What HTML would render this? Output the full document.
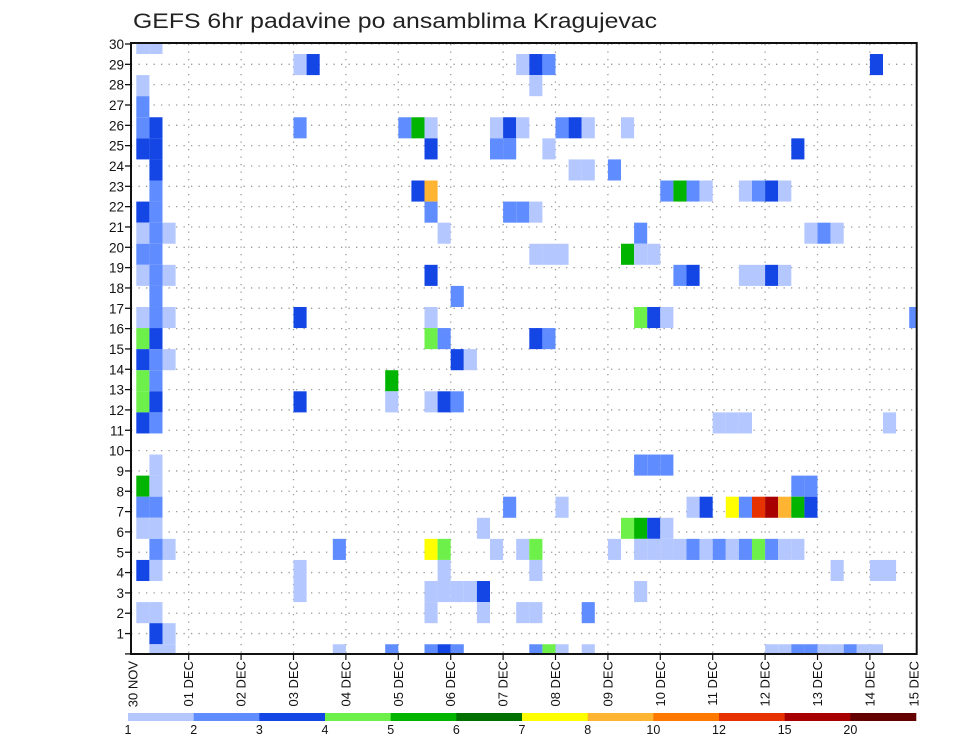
<!DOCTYPE html>
<html><head><meta charset="utf-8"><style>
html,body{margin:0;padding:0;background:#fff;}
svg{display:block;font-family:"Liberation Sans",sans-serif;}
</style></head><body>
<svg id="chart" width="960" height="742" viewBox="0 0 960 742" xmlns="http://www.w3.org/2000/svg">
<rect width="960" height="742" fill="#fff"/>
<text x="133" y="28" font-size="21" fill="#222" textLength="524" lengthAdjust="spacingAndGlyphs">GEFS 6hr padavine po ansamblima Kragujevac</text>
<g id="grid"></g>
<g id="cells"></g>
<g id="axes"></g>
<g id="legend"></g>
</svg>
<script>
const dayLabels = ["30 NOV","01 DEC","02 DEC","03 DEC","04 DEC","05 DEC","06 DEC","07 DEC","08 DEC","09 DEC","10 DEC","11 DEC","12 DEC","13 DEC","14 DEC","15 DEC"];
const memberTicks = [0,1,2,3,4,5,6,7,8,9,10,11,12,13,14,15,16,17,18,19,20,21,22,23,24,25,26,27,28,29,30];
const levelLabels = ["1","2","3","4","5","6","7","8","10","12","15","20"];
const levelColors = ["#b4c8ff","#5f8cff","#1446e6","#6ef04a","#00b400","#007000","#ffff00","#ffb432","#ff7800","#e63200","#a80000","#640000"];
// heatmap cells: member row, 6-hour step, precip class (1..12)
const cellMember = [29,29,28,28,28,28,28,28,27,27,26,25,25,25,25,25,25,25,25,25,25,25,25,25,24,24,24,24,24,24,24,23,23,23,23,22,22,22,22,22,22,22,22,22,22,22,21,21,21,21,21,21,20,20,20,20,20,20,20,20,19,19,19,19,19,19,19,19,18,18,18,18,18,18,18,18,18,18,17,17,16,16,16,16,16,16,16,16,16,15,15,15,15,15,15,14,14,14,14,14,13,13,13,12,12,12,12,12,12,12,11,11,11,11,11,11,9,9,9,9,8,8,8,8,7,7,7,7,7,7,7,7,7,7,7,7,7,6,6,6,6,6,6,6,5,5,5,5,5,5,5,5,5,5,5,5,5,5,5,5,5,5,5,5,5,5,4,4,4,4,4,4,4,4,3,3,3,3,3,3,3,2,2,2,2,2,2,2,1,1,0,0,0,0,0,0,0,0,0,0,0,0,0,0,0,0,0,0,0,0];
const cellStep =   [0,1,12,13,29,30,31,56,0,30,0,0,1,12,20,21,22,27,28,29,32,33,34,37,0,1,22,27,28,31,50,1,33,34,36,1,21,22,40,41,42,43,46,47,48,49,0,1,22,28,29,30,0,1,2,23,38,51,52,53,0,1,30,31,32,37,38,39,0,1,2,22,41,42,46,47,48,49,1,24,0,1,2,12,22,38,39,40,59,0,1,22,23,30,31,0,1,2,24,25,0,1,19,0,1,12,19,22,23,24,0,1,44,45,46,57,1,38,39,40,0,1,50,51,0,1,28,32,42,43,45,46,47,48,49,50,51,0,1,26,37,38,39,40,1,2,15,22,23,27,29,30,36,38,39,40,41,42,43,44,45,46,47,48,49,50,0,1,12,23,30,53,56,57,12,22,23,24,25,26,38,0,1,22,26,29,30,34,1,2,1,2,15,19,22,23,24,30,31,32,34,48,49,50,51,52,53,54,55,56];
const cellLevel =  [1,1,1,3,1,3,2,3,1,1,2,2,3,2,2,5,1,1,3,1,2,3,1,1,3,3,3,2,2,1,3,3,1,1,2,2,3,8,2,5,2,1,1,2,3,1,3,2,2,2,2,1,1,2,1,1,2,1,2,1,2,2,1,1,1,5,1,1,1,2,1,3,2,3,1,1,3,1,2,2,1,2,1,3,1,4,3,1,2,4,3,4,2,3,2,3,2,1,3,1,4,2,5,4,3,3,1,1,3,2,3,2,1,1,1,1,1,2,2,2,5,1,2,2,2,2,2,1,1,3,7,2,10,11,8,5,3,1,1,1,4,5,3,1,2,1,2,7,4,1,1,4,1,1,1,1,1,2,1,2,1,2,4,2,1,1,3,1,1,1,1,1,1,1,1,1,1,1,1,3,1,1,1,1,1,1,1,2,3,1,1,1,1,2,2,3,2,2,4,1,1,1,1,2,2,1,1,2,1,1];

const NS = "http://www.w3.org/2000/svg";
const PL = 131, PR = 916.7, PT = 44, PB = 654;
const X0 = 136.3, DAY = 52.4, STEP = DAY / 4;
const xDay = d => X0 + d * DAY;
const xStep = s => X0 + s * STEP;
const yTick = m => PT + (30 - m) * 20.33;
const CELLH = 21.08;
const yCellCenter = r => 654.8 - r * CELLH;
function mk(tag, attrs, parent){ const e=document.createElementNS(NS,tag); for(const k in attrs) e.setAttribute(k,attrs[k]); parent.appendChild(e); return e; }

const grid = document.getElementById('grid');
memberTicks.forEach(m => {
  const y = yTick(m);
  const l = mk('line',{x1:PL,x2:PR,y1:y,y2:y,stroke:'#999','stroke-width':1.3,'stroke-dasharray':'1.3 6.2'},grid);
  
  
});
for (let d=1; d<15; d++){
  const x = xDay(d);
  const l = mk('line',{x1:x,x2:x,y1:PT,y2:PB,stroke:'#999','stroke-width':1.3,'stroke-dasharray':'1.3 6.2'},grid);
  
  
}

const cells = document.getElementById('cells');
for (let i=0;i<cellMember.length;i++){
  let x1 = xStep(cellStep[i]), x2 = x1 + STEP;
  x2 = Math.min(x2, PR);
  const yc = yCellCenter(cellMember[i]);
  let y1 = Math.max(PT, yc - CELLH/2), y2 = Math.min(PB, yc + CELLH/2);
  const r = mk('rect',{x:x1,y:y1,width:x2-x1,height:y2-y1,fill:levelColors[cellLevel[i]-1]},cells);
  
  
}

const axes = document.getElementById('axes');
const frame = mk('rect',{x:PL,y:PT-1,width:PR-PL,height:PB-PT+1,fill:'none',stroke:'#111','stroke-width':2},axes);


memberTicks.forEach(m => {
  const y = yTick(m);
  mk('line',{x1:PL-6,x2:PL,y1:y,y2:y,stroke:'#111','stroke-width':1.3},axes);
  if (m>0){
    const t = mk('text',{x:PL-7,y:y+5,'font-size':13.5,'text-anchor':'end',fill:'#111'},axes);
    t.textContent = m;
    
    
  }
});
dayLabels.forEach((lab,d) => {
  let x = xDay(d);
  if (d===0) x = 133;
  if (d===15) x = 914;
  if (d>0 && d<15) mk('line',{x1:x,x2:x,y1:PB,y2:PB+6,stroke:'#111','stroke-width':1.2},axes);
  const t = mk('text',{x:0,y:0,'font-size':13,'text-anchor':'end',fill:'#111',transform:`translate(${x+4.5},661) rotate(-90)`},axes);
  t.textContent = lab;
  
  
});

const legend = document.getElementById('legend');
const LX0 = 128, LX1 = 916, SEG = (LX1-LX0)/levelColors.length;
levelColors.forEach((c,i) => {
  const r = mk('rect',{x:LX0+i*SEG,y:713,width:SEG+0.3,height:8,fill:c},legend);
  
  
});
levelLabels.forEach((lab,i) => {
  const t = mk('text',{x:LX0+i*SEG,y:734,'font-size':12.5,'text-anchor':'middle',fill:'#111'},legend);
  t.textContent = lab;
  
  
});
</script>
</body></html>
